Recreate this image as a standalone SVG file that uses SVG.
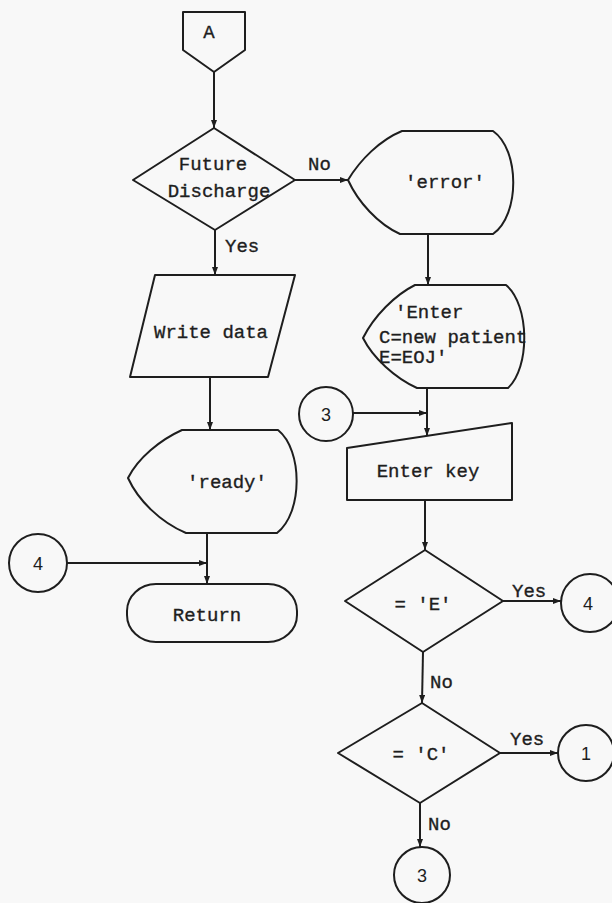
<svg xmlns="http://www.w3.org/2000/svg" width="612" height="903" viewBox="0 0 612 903">
<defs>
<marker id="arr" markerUnits="userSpaceOnUse" markerWidth="9" markerHeight="7" refX="8" refY="3" orient="auto">
<path d="M0,0 L8,3 L0,6 Z" fill="#1e1e1e"/>
</marker>
<style>
.s{fill:none;stroke:#1e1e1e;stroke-width:2;stroke-linejoin:round}
.t{font-family:"Liberation Mono","Courier New",monospace;font-size:19px;fill:#1e1e1e;stroke:#1e1e1e;stroke-width:0.35}
.c{text-anchor:middle}
.n{font-family:"Liberation Sans",Arial,sans-serif;font-size:18px;fill:#1e1e1e;text-anchor:middle}
.e{fill:none;stroke:#1e1e1e;stroke-width:2;marker-end:url(#arr)}
</style>
</defs>
<rect width="612" height="903" fill="#f8f8f8"/>
<g id="connectors">
<path class="e" d="M214,72 L214,128"/>
<path class="e" d="M295,180 L348,180"/>
<path class="e" d="M215,230 L215,275"/>
<path class="e" d="M210,377 L210,430"/>
<path class="e" d="M207,533 L207,584"/>
<path class="e" d="M67,563 L207,563"/>
<path class="e" d="M428,234 L428,285"/>
<path class="e" d="M427,388 L427,436"/>
<path class="e" d="M353,413 L427,413"/>
<path class="e" d="M425,500 L425,550"/>
<path class="e" d="M503,601 L561,601"/>
<path class="e" d="M423,652 L422,703"/>
<path class="e" d="M500,753 L558,753"/>
<path class="e" d="M420,803 L420,847"/>
<text class="t" x="308" y="170">No</text>
<text class="t" x="225" y="252">Yes</text>
<text class="t" x="512" y="597">Yes</text>
<text class="t" x="430" y="688">No</text>
<text class="t" x="510" y="745">Yes</text>
<text class="t" x="428" y="830">No</text>
</g>
<g id="offpageA">
<path class="s" d="M183,12 L245,12 L245,50 L214,72 L183,50 Z"/>
<text class="t c" x="209" y="38">A</text>
</g>
<g id="futureDischarge">
<path class="s" d="M214,128 L295,180 L215,230 L133,180 Z"/>
<text class="t c" x="213" y="170">Future</text>
<text class="t c" x="219" y="197">Discharge</text>
</g>
<g id="writeData">
<path class="s" d="M155,275 L295,275 L268,377 L130,377 Z"/>
<text class="t c" x="211" y="338">Write data</text>
</g>
<g id="ready">
<path class="s" d="M182,430 L278,430 C303,450 303,513 277,533 L186,533 C160,522 138,500 128,478 C138,458 160,440 182,430 Z"/>
<text class="t c" x="227" y="488">'ready'</text>
</g>
<g id="conn4left">
<circle class="s" cx="38" cy="563" r="29"/>
<text class="n" x="38" y="570">4</text>
</g>
<g id="return">
<rect class="s" x="127" y="584" width="170" height="58" rx="29" ry="27"/>
<text class="t c" x="207" y="621">Return</text>
</g>
<g id="error">
<path class="s" d="M402,131 L493,131 C520,150 520,215 493,234 L400,234 C378,224 358,202 348,180 C360,160 380,140 402,131 Z"/>
<text class="t c" x="445" y="188">'error'</text>
</g>
<g id="enterPrompt">
<path class="s" d="M415,285 L506,285 C530,305 530,368 508,388 L417,388 C395,378 373,358 363,338 C374,316 395,295 415,285 Z"/>
<text class="t" x="395" y="318">'Enter</text>
<text class="t" x="379" y="343">C=new patient</text>
<text class="t" x="379" y="363">E=EOJ'</text>
</g>
<g id="conn3top">
<circle class="s" cx="326" cy="414" r="27"/>
<text class="n" x="326" y="421">3</text>
</g>
<g id="enterKey">
<path class="s" d="M347,448 L512,423 L512,500 L347,500 Z"/>
<text class="t c" x="428" y="477">Enter key</text>
</g>
<g id="isE">
<path class="s" d="M425,550 L503,601 L423,652 L345,601 Z"/>
<text class="t c" x="423" y="610">= 'E'</text>
</g>
<g id="conn4right">
<circle class="s" cx="590" cy="603" r="29"/>
<text class="n" x="588" y="610">4</text>
</g>
<g id="isC">
<path class="s" d="M422,703 L500,753 L420,803 L338,753 Z"/>
<text class="t c" x="421" y="760">= 'C'</text>
</g>
<g id="conn1">
<circle class="s" cx="586" cy="753" r="28"/>
<text class="n" x="586" y="760">1</text>
</g>
<g id="conn3bottom">
<circle class="s" cx="422" cy="875" r="28"/>
<text class="n" x="422" y="882">3</text>
</g>
</svg>
